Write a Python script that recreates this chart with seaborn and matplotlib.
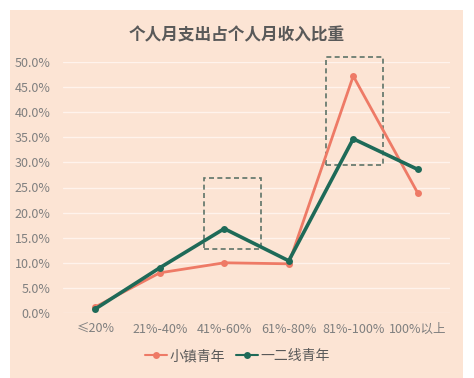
import matplotlib
matplotlib.use("Agg")
import matplotlib.pyplot as plt
import seaborn as sns
import pandas as pd
from matplotlib.patches import Rectangle

categories = ["≤20%", "21%-40%", "41%-60%", "61%-80%", "81%-100%", "100%以上"]
town_youth = [0.012, 0.080, 0.100, 0.098, 0.472, 0.239]
city_youth = [0.008, 0.090, 0.168, 0.104, 0.347, 0.286]
series_names = ["小镇青年", "一二线青年"]
title = "个人月支出占个人月收入比重"
yticks = [0.0, 0.05, 0.10, 0.15, 0.20, 0.25, 0.30, 0.35, 0.40, 0.45, 0.50]

sns.set_theme(style="white")
plt.rcParams['font.family'] = ['Noto Sans CJK SC', 'DejaVu Sans']

bg = "#FCE4D4"
red = "#EE7A66"
green = "#1E6A58"

df = pd.DataFrame({
    "cat": categories * 2,
    "val": town_youth + city_youth,
    "series": [series_names[0]] * len(categories) + [series_names[1]] * len(categories),
})

fig = plt.figure(figsize=(4.74, 3.78), dpi=100)
fig.patch.set_facecolor("white")
fig.patches.append(Rectangle((10 / 474, 0), 453 / 474, 1 - 10 / 378,
                             transform=fig.transFigure, facecolor=bg,
                             edgecolor="none", zorder=-5))
ax = fig.add_axes([63 / 474, 1 - 313 / 378, 387 / 474, (313 - 62) / 378])
ax.set_zorder(2)
ax.patch.set_alpha(0)

sns.lineplot(data=df, x="cat", y="val", hue="series", palette=[red, green],
             marker="o", markersize=5, markeredgewidth=0, ax=ax, sort=False)
for line, lw in zip(ax.lines, [2.0, 2.6]):
    line.set_linewidth(lw)

ax.set_xlim(-0.5, 5.5)
ax.set_ylim(0, 0.5)
ax.set_yticks(yticks)
ax.set_yticklabels([f"{v*100:.1f}%" for v in yticks], color="#7F7F7F", fontsize=9)
ax.set_xticks(range(len(categories)))
ax.set_xticklabels(categories, color="#7F7F7F", fontsize=9)
ax.tick_params(axis="y", length=0, pad=9)
ax.tick_params(axis="x", length=0, pad=7)
ax.yaxis.grid(True, color="#FFF3EC", linewidth=1)
ax.set_axisbelow(True)
for s in ax.spines.values():
    s.set_visible(False)
ax.set_xlabel("")
ax.set_ylabel("")

# highlight boxes
for (x0, x1, y0, y1) in [(1.68, 2.57, 0.127, 0.269), (3.57, 4.46, 0.295, 0.510)]:
    ax.add_patch(Rectangle((x0, y0), x1 - x0, y1 - y0, fill=False,
                           edgecolor="#5E7468", linestyle=(0, (3, 2)),
                           linewidth=1.2, clip_on=False, zorder=1))

fig.text(0.5, 1 - 35 / 378, title, ha="center", va="center",
         fontsize=12, fontweight="bold", color="#595959")

handles, labels = ax.get_legend_handles_labels()
ax.legend_.remove()
leg = fig.legend(handles, labels, loc="center", bbox_to_anchor=(0.5, 1 - 356 / 378),
                 ncol=2, frameon=False, fontsize=10, handlelength=1.6,
                 columnspacing=0.8, handletextpad=0.15)
for t in leg.get_texts():
    t.set_color("#595959")

fig.savefig("out.png", dpi=100, facecolor=fig.get_facecolor())
